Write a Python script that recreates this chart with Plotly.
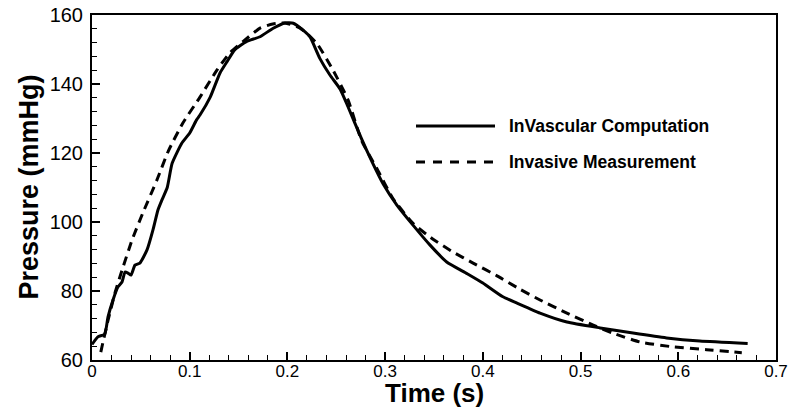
import plotly.graph_objects as go

# InVascular Computation (solid)
t_comp = [0.0, 0.006, 0.013, 0.0164, 0.0215, 0.0266, 0.0307, 0.0338, 0.0368, 0.0399,
          0.044, 0.049, 0.0563, 0.0624, 0.0675, 0.0716, 0.077, 0.082, 0.092, 0.1,
          0.107, 0.1105, 0.121, 0.131, 0.138, 0.146, 0.158, 0.172, 0.185, 0.1975,
          0.206, 0.216, 0.223, 0.233, 0.2435, 0.254, 0.262, 0.276, 0.2865, 0.298,
          0.312, 0.3285, 0.346, 0.363, 0.384, 0.4, 0.42, 0.435, 0.4585, 0.486,
          0.52, 0.5537, 0.588, 0.622, 0.671]
p_comp = [64.5, 66.7, 67.5, 72.5, 77.4, 81.2, 82.6, 85.5, 85.2, 84.6,
          87.5, 88.1, 91.9, 97.7, 103.5, 106.4, 110.0, 117.0, 122.9, 125.8,
          129.6, 131.0, 136.2, 143.2, 146.4, 149.9, 152.3, 153.7, 156.1, 157.7,
          157.6, 155.6, 153.7, 147.5, 142.6, 138.5, 133.4, 124.0, 117.5, 111.0,
          104.9, 99.1, 93.3, 88.4, 85.0, 82.3, 78.4, 76.5, 73.6, 71.0,
          69.3, 67.8, 66.4, 65.5, 64.8]

# Invasive Measurement (dashed)
t_meas = [0.009, 0.011, 0.0165, 0.0235, 0.0307, 0.041, 0.052, 0.0665, 0.078, 0.093,
          0.1105, 0.128, 0.141, 0.1545, 0.172, 0.185, 0.1975, 0.213, 0.23, 0.2465,
          0.262, 0.276, 0.2915, 0.308, 0.3285, 0.349, 0.3695, 0.39, 0.4145, 0.438,
          0.4585, 0.486, 0.513, 0.533, 0.561, 0.595, 0.629, 0.665]
p_meas = [62.3, 64.9, 71.6, 79.4, 86.0, 94.8, 102.6, 112.2, 120.5, 128.7,
          136.2, 144.1, 149.0, 152.3, 156.2, 157.4, 157.7, 156.2, 151.8, 144.1,
          135.4, 123.5, 115.5, 106.8, 99.6, 95.0, 91.3, 88.1, 84.4, 80.5,
          77.4, 73.6, 70.1, 67.8, 65.2, 63.8, 63.0, 62.1]

x_ticks = [0, 0.1, 0.2, 0.3, 0.4, 0.5, 0.6, 0.7]
x_tick_text = ["0", "0.1", "0.2", "0.3", "0.4", "0.5", "0.6", "0.7"]
y_ticks = [60, 80, 100, 120, 140, 160]

names = ["InVascular Computation", "Invasive Measurement"]

FONT = "Liberation Sans, Arial, Helvetica, sans-serif"

fig = go.Figure()
fig.add_trace(go.Scatter(x=t_comp, y=p_comp, mode="lines", name=names[0],
                         line=dict(color="black", width=3, shape="spline", smoothing=0.5),
                         showlegend=False))
fig.add_trace(go.Scatter(x=t_meas, y=p_meas, mode="lines", name=names[1],
                         line=dict(color="black", width=3, dash="9px,6px", shape="spline", smoothing=0.5),
                         showlegend=False))

# manual legend (line samples + labels) in paper coords
L = 92; R = 776; T = 15; B = 360
def px(x): return (x - L) / (R - L)
def py(y): return (B - y) / (B - T)

legend_rows = [(126, "solid"), (162, "9px,8px")]
for (ly, dash), name in zip(legend_rows, names):
    fig.add_shape(type="line", xref="paper", yref="paper",
                  x0=px(416), x1=px(495), y0=py(ly), y1=py(ly),
                  line=dict(color="black", width=3, dash=dash))
    fig.add_annotation(xref="paper", yref="paper", x=px(507), y=py(ly),
                       xanchor="left", yanchor="middle", showarrow=False,
                       text="<b>%s</b>" % name,
                       font=dict(family=FONT, size=17.5, color="black"))

fig.add_annotation(xref="paper", yref="paper", x=0.5, y=py(393), xanchor="center",
                   yanchor="middle", showarrow=False, text="<b>Time (s)</b>",
                   font=dict(family=FONT, size=26, color="black"))
fig.add_annotation(xref="paper", yref="paper", x=px(28), y=0.5, xanchor="center",
                   yanchor="middle", showarrow=False, textangle=-90,
                   text="<b>Pressure (mmHg)</b>",
                   font=dict(family=FONT, size=27, color="black"))

fig.update_xaxes(range=[0, 0.7], tickvals=x_ticks, ticktext=x_tick_text,
                 ticks="inside", ticklen=8, tickwidth=1.5, tickcolor="black",
                 showline=True, linecolor="black", linewidth=2, mirror=True,
                 showgrid=False, zeroline=False, automargin=False,
                 ticklabelstandoff=-5,
                 tickfont=dict(family=FONT, size=17, color="black"),
                 minor=dict(ticks="inside", ticklen=5, tickwidth=1.2,
                            tickcolor="black", dtick=0.02, showgrid=False))
fig.update_yaxes(range=[60, 160], tickvals=y_ticks,
                 ticks="inside", ticklen=8, tickwidth=1.5, tickcolor="black",
                 showline=True, linecolor="black", linewidth=2, mirror=True,
                 showgrid=False, zeroline=False, automargin=False,
                 ticklabelstandoff=3,
                 tickfont=dict(family=FONT, size=20, color="black"),
                 minor=dict(ticks="inside", ticklen=5, tickwidth=1.2,
                            tickcolor="black", dtick=4, showgrid=False))

fig.update_layout(width=791, height=412,
                  margin=dict(l=92, r=15, t=15, b=52),
                  paper_bgcolor="white", plot_bgcolor="white",
                  font=dict(family=FONT, color="black"))

fig.write_html("out.html")
